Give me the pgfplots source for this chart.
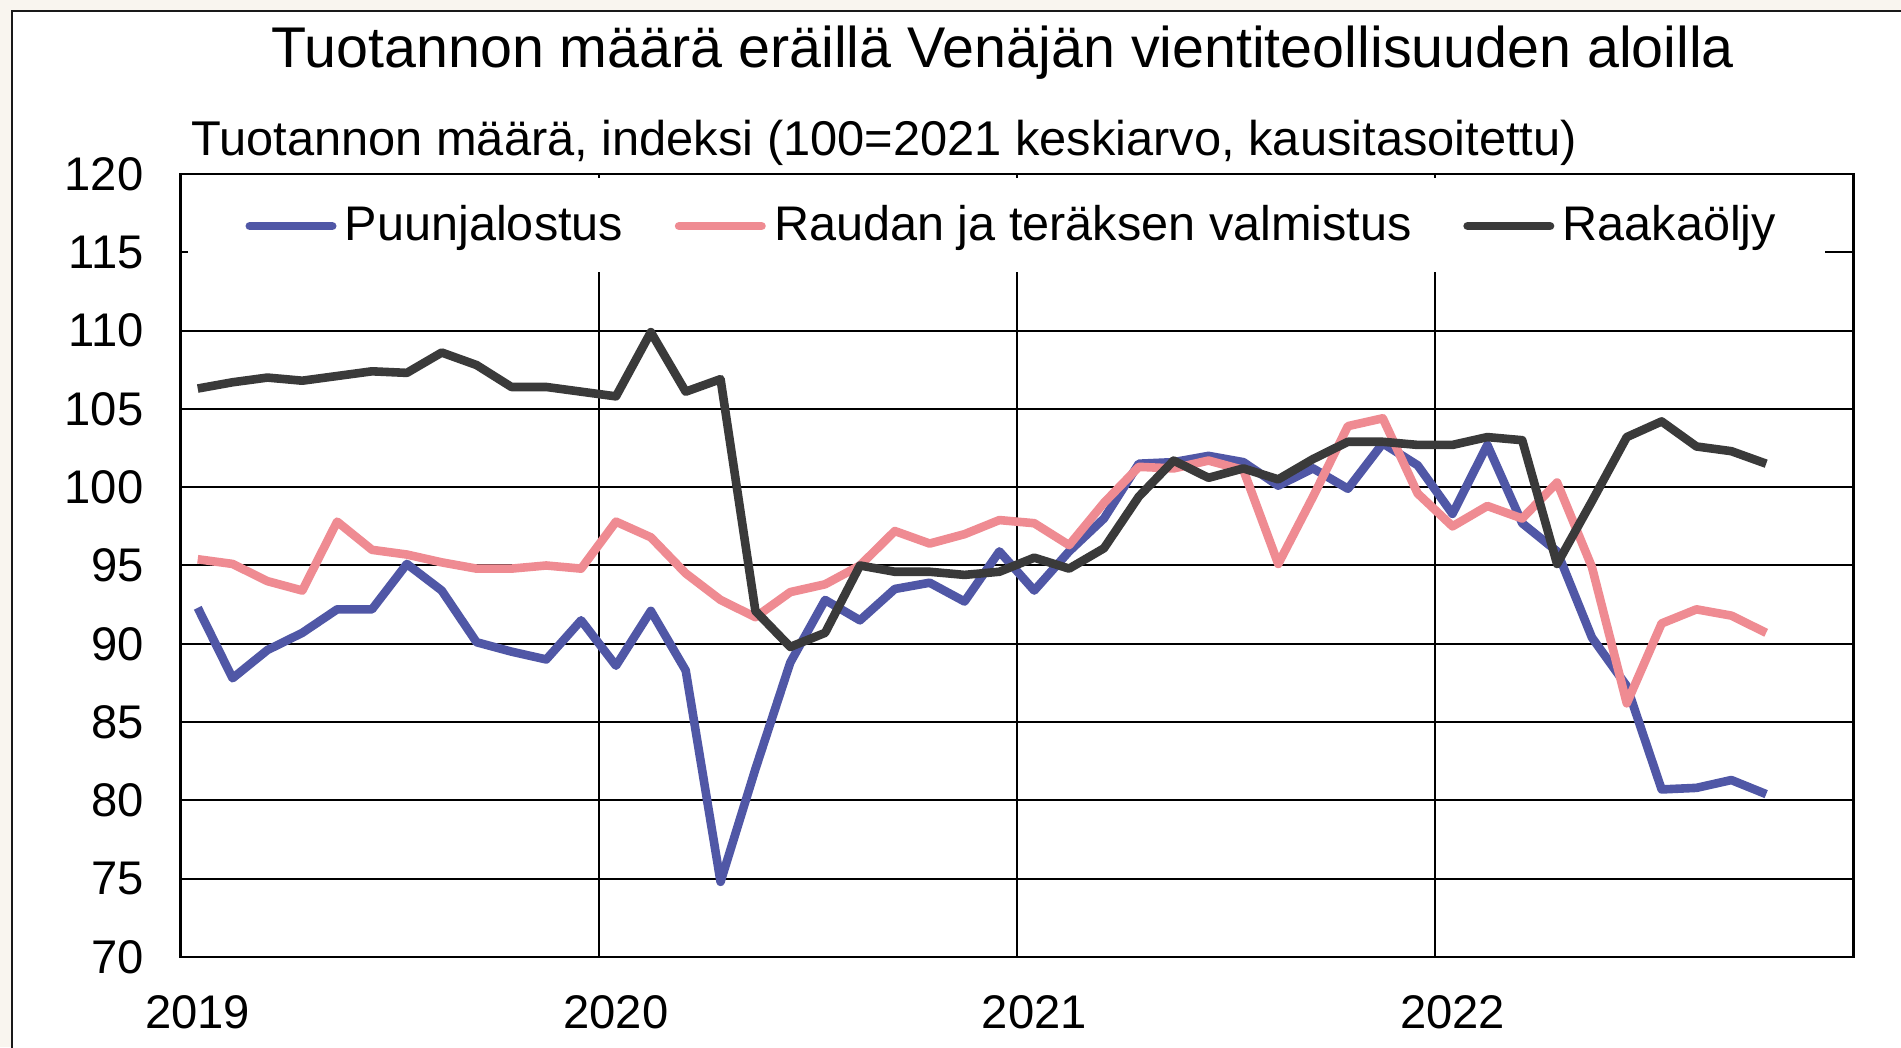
\documentclass[border=0pt]{standalone}
\usepackage{fontspec}
\setmainfont{Liberation Sans}
\usepackage{pgfplots}
\pgfplotsset{compat=1.18}
\definecolor{cblue}{RGB}{80,87,166}
\definecolor{cpink}{RGB}{239,139,146}
\definecolor{cdark}{RGB}{58,58,58}
\definecolor{cbeige}{RGB}{249,245,239}

\begin{document}
\begin{tikzpicture}
\useasboundingbox (0,0) rectangle (475.25pt,261.75pt);
\clip (0,0) rectangle (475.25pt,261.75pt);
\fill[cbeige] (0,0) rectangle (475.25pt,261.75pt);
\fill[white] (3pt,-5pt) rectangle (480pt,259pt);
\draw[line width=0.65pt, black!90] (3pt,-5pt) -- (3pt,259pt) -- (480pt,259pt);
\node[anchor=base, inner sep=0pt, font=\fontsize{14.35}{17}\selectfont] at (250.75pt,244.8pt) {Tuotannon määrä eräillä Venäjän vientiteollisuuden aloilla};
\node[anchor=base west, inner sep=0pt, font=\fontsize{12.2}{14}\selectfont] at (47.6pt,222.75pt) {Tuotannon määrä, indeksi (100=2021 keskiarvo, kausitasoitettu)};
\begin{axis}[
  at={(45.075pt,22.5pt)}, anchor=south west,
  width=418.25pt, height=195.75pt, scale only axis,
  xmin=0, xmax=48, ymin=70, ymax=120,
  xtick={0,12,24,36}, xticklabels={2019,2020,2021,2022},
  ytick={70,75,...,120},
  major tick length=0pt,
  grid=major,
  major grid style={black, line width=0.5pt},
  axis line style={black, line width=0.7pt},
  tick label style={font=\fontsize{11.8}{14}\selectfont},
  /pgf/number format/assume math mode=true,
  yticklabel style={anchor=east, inner sep=0pt, xshift=-9pt},
  xticklabel style={anchor=north, inner sep=0pt, yshift=-9.5pt, xshift=4.36pt},
  legend columns=3,
  legend style={at={(0.0385,0.9335)}, anchor=west, fill=none, draw=none, inner sep=0pt,
    font=\fontsize{12.15}{14}\selectfont, nodes={inner sep=0pt},
    /tikz/every odd column/.append style={column sep=2.1pt},
    /tikz/every even column/.append style={column sep=12.9pt}},
  legend image code/.code={\draw[#1, line cap=round] (0pt,0pt) -- (20.6pt,0pt);},
  every axis plot/.append style={line width=2.15pt, line join=round},
]
\fill[white] (rel axis cs:0.0046,0.9949) rectangle (rel axis cs:0.9831,0.8748);
\addplot[cblue] coordinates {
(0.5,92.3) (1.5,87.8) (2.5,89.6) (3.5,90.7) (4.5,92.2) (5.5,92.2) (6.5,95.1) (7.5,93.4)
(8.5,90.1) (9.5,89.5) (10.5,89.0) (11.5,91.5) (12.5,88.6) (13.5,92.1) (14.5,88.3) (15.5,74.8)
(16.5,82.0) (17.5,88.8) (18.5,92.8) (19.5,91.5) (20.5,93.5) (21.5,93.9) (22.5,92.7) (23.5,95.9)
(24.5,93.4) (25.5,95.9) (26.5,98.0) (27.5,101.5) (28.5,101.6) (29.5,102.0) (30.5,101.6) (31.5,100.1)
(32.5,101.2) (33.5,99.9) (34.5,102.8) (35.5,101.4) (36.5,98.3) (37.5,102.7) (38.5,97.7) (39.5,95.9)
(40.5,90.4) (41.5,87.3) (42.5,80.7) (43.5,80.8) (44.5,81.3) (45.5,80.4)
};
\addlegendentry{Puunjalostus}
\addplot[cpink] coordinates {
(0.5,95.4) (1.5,95.1) (2.5,94.0) (3.5,93.4) (4.5,97.8) (5.5,96.0) (6.5,95.7) (7.5,95.2)
(8.5,94.8) (9.5,94.8) (10.5,95.0) (11.5,94.8) (12.5,97.8) (13.5,96.8) (14.5,94.5) (15.5,92.8)
(16.5,91.7) (17.5,93.3) (18.5,93.8) (19.5,95.0) (20.5,97.2) (21.5,96.4) (22.5,97.0) (23.5,97.9)
(24.5,97.7) (25.5,96.3) (26.5,99.0) (27.5,101.3) (28.5,101.2) (29.5,101.7) (30.5,101.1) (31.5,95.1)
(32.5,99.4) (33.5,103.9) (34.5,104.4) (35.5,99.6) (36.5,97.5) (37.5,98.8) (38.5,98.0) (39.5,100.3)
(40.5,94.9) (41.5,86.2) (42.5,91.3) (43.5,92.2) (44.5,91.8) (45.5,90.7)
};
\addlegendentry{Raudan ja teräksen valmistus}
\addplot[cdark] coordinates {
(0.5,106.3) (1.5,106.7) (2.5,107.0) (3.5,106.8) (4.5,107.1) (5.5,107.4) (6.5,107.3) (7.5,108.6)
(8.5,107.8) (9.5,106.4) (10.5,106.4) (11.5,106.1) (12.5,105.8) (13.5,109.9) (14.5,106.1) (15.5,106.9)
(16.5,92.1) (17.5,89.8) (18.5,90.7) (19.5,95.0) (20.5,94.6) (21.5,94.6) (22.5,94.4) (23.5,94.6)
(24.5,95.5) (25.5,94.8) (26.5,96.1) (27.5,99.4) (28.5,101.7) (29.5,100.6) (30.5,101.2) (31.5,100.5)
(32.5,101.8) (33.5,102.9) (34.5,102.9) (35.5,102.7) (36.5,102.7) (37.5,103.2) (38.5,103.0) (39.5,95.1)
(40.5,99.1) (41.5,103.2) (42.5,104.2) (43.5,102.6) (44.5,102.3) (45.5,101.5)
};
\addlegendentry{Raakaöljy}
\end{axis}
\end{tikzpicture}
\end{document}
